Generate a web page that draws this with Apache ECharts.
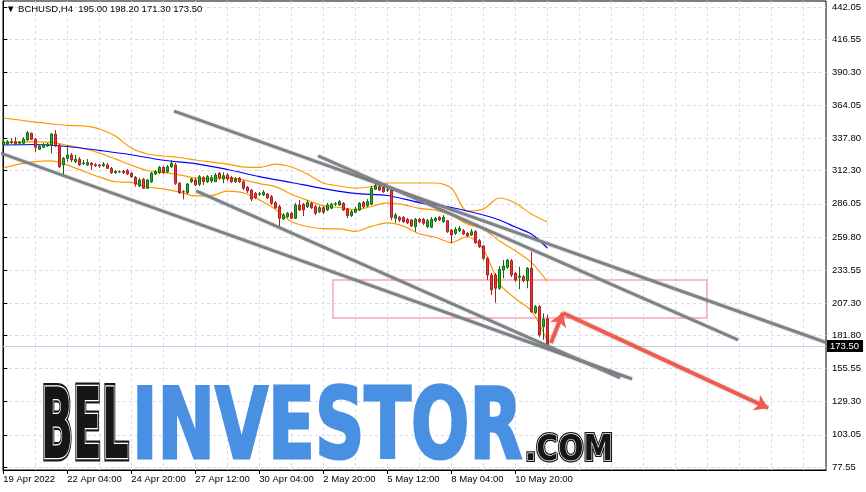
<!DOCTYPE html>
<html>
<head>
<meta charset="utf-8">
<script src="https://cdn.jsdelivr.net/npm/echarts@6.0.0/dist/echarts.min.js"></script>
<style>
  html, body { margin: 0; padding: 0; background: #fff; }
  #chart { width: 866px; height: 492px; }
</style>
</head>
<body>
<div id="chart"></div>
<script>
// H4 bars, bar 0 = 19 Apr 2022 12:00
const opens = [
  332.7, 333.5, 334.8, 335.3, 334.1, 334.1, 336.7, 342.0, 337.2, 329.3,
  330.9, 331.9, 332.7, 341.4, 332.7, 316.9, 322.2, 324.8, 319.5, 321.4,
  317.9, 316.9, 318.2, 317.1, 316.9, 316.3, 316.9, 314.2, 310.8, 311.3,
  311.9, 312.3, 310.3, 307.1, 300.2, 305.5, 298.4, 303.6, 309.7, 310.8,
  315.0, 311.5, 315.5, 316.9, 302.4, 295.7, 294.9, 303.6, 305.0, 301.6,
  306.8, 303.6, 304.2, 303.6, 310.3, 305.8, 308.9, 306.8, 303.6, 306.3,
  303.6, 299.2, 297.0, 294.4, 293.6, 293.1, 293.9, 291.7, 287.0, 283.8,
  274.1, 275.9, 278.6, 274.6, 285.2, 285.7, 283.8, 286.5, 283.8, 279.9,
  283.0, 281.2, 282.5, 285.7, 285.2, 286.5, 282.0, 276.7, 279.4, 281.2,
  287.3, 284.6, 285.7, 297.6, 299.7, 299.2, 296.8, 297.0, 274.6, 275.4,
  275.4, 273.8, 273.3, 268.0, 273.8, 273.8, 268.0, 267.5, 272.7, 275.4,
  271.9, 272.7, 265.3, 262.7, 264.8, 264.8, 262.7, 261.4, 264.0, 256.9,
  252.7, 242.9, 229.7, 229.7, 219.2, 233.6, 235.8, 241.0, 231.0, 227.9,
  228.3, 225.2, 235.0, 199.8, 204.6, 188.7, 195.0
];
const closes = [
  335.3, 335.3, 335.3, 333.5, 335.1, 337.2, 342.4, 337.2, 330.9, 331.9,
  332.7, 333.5, 341.4, 331.9, 315.5, 322.2, 324.8, 320.8, 321.4, 316.9,
  318.4, 318.7, 316.9, 316.3, 316.1, 317.4, 314.2, 310.8, 311.9, 311.5,
  310.8, 309.7, 307.6, 301.8, 305.0, 298.4, 305.0, 310.3, 311.5, 315.0,
  310.8, 315.5, 318.2, 302.4, 294.9, 295.5, 301.8, 305.8, 301.0, 307.6,
  303.6, 307.6, 306.8, 308.9, 306.8, 308.4, 305.8, 303.6, 305.8, 303.6,
  298.4, 296.3, 289.9, 290.9, 294.1, 295.2, 290.9, 286.5, 283.0, 274.6,
  277.2, 278.6, 274.6, 285.2, 281.2, 281.2, 287.3, 283.0, 278.6, 283.0,
  279.4, 285.2, 285.7, 286.2, 287.8, 281.2, 276.7, 279.9, 282.0, 286.5,
  283.8, 287.8, 298.4, 300.2, 297.0, 295.7, 297.3, 275.4, 277.2, 273.3,
  271.9, 271.1, 268.5, 273.8, 271.9, 270.7, 272.7, 273.8, 274.6, 273.3,
  275.4, 264.0, 261.4, 265.9, 266.7, 262.2, 260.6, 264.0, 255.3, 252.1,
  242.9, 229.7, 217.8, 219.2, 234.2, 236.8, 241.6, 229.7, 225.7, 228.9,
  225.2, 235.0, 200.6, 204.6, 182.1, 194.6, 173.5
];
const lows = [
  331.9, 332.7, 333.5, 332.7, 332.7, 332.7, 335.9, 336.7, 327.2, 328.7,
  330.3, 331.1, 326.1, 331.1, 314.5, 308.9, 319.5, 319.2, 318.4, 316.1,
  316.9, 316.1, 312.9, 315.3, 314.5, 315.3, 313.7, 309.7, 309.7, 310.5,
  309.7, 308.9, 306.6, 299.7, 299.4, 297.8, 297.8, 302.6, 308.9, 309.7,
  309.7, 310.5, 314.5, 301.0, 293.9, 289.7, 293.9, 302.6, 300.2, 300.2,
  301.0, 302.6, 302.6, 303.4, 305.0, 302.4, 304.2, 302.6, 302.6, 302.6,
  297.0, 294.7, 288.3, 289.9, 292.3, 292.3, 289.9, 285.2, 282.0, 266.7,
  273.3, 274.9, 274.1, 274.1, 280.4, 276.4, 282.8, 282.0, 277.2, 278.8,
  278.0, 280.4, 282.0, 284.4, 284.4, 280.4, 274.9, 275.7, 278.8, 280.4,
  282.8, 283.6, 285.2, 297.0, 296.3, 294.7, 295.5, 273.3, 271.1, 271.7,
  270.9, 270.1, 267.7, 264.0, 270.9, 269.3, 266.9, 266.9, 271.7, 272.5,
  270.9, 263.0, 254.8, 261.4, 263.8, 261.4, 259.8, 260.6, 254.3, 251.1,
  241.6, 225.7, 213.8, 207.7, 217.8, 227.1, 234.4, 228.1, 224.1, 218.4,
  224.1, 219.2, 199.6, 198.8, 180.6, 178.2, 171.3
];
const highs = [
  337.5, 336.7, 338.2, 339.0, 335.9, 339.0, 343.8, 342.6, 338.2, 332.7,
  334.3, 334.3, 342.0, 344.6, 333.5, 323.2, 332.7, 326.4, 324.8, 323.2,
  320.8, 321.6, 319.2, 318.4, 317.6, 319.2, 318.4, 315.3, 312.9, 312.5,
  312.9, 313.7, 311.3, 308.1, 306.6, 306.6, 305.8, 311.3, 312.9, 316.1,
  316.1, 316.9, 320.8, 318.4, 303.4, 297.0, 302.6, 306.6, 306.6, 308.9,
  308.1, 308.9, 308.9, 310.5, 311.3, 311.1, 310.5, 308.1, 307.3, 307.3,
  305.0, 300.2, 297.8, 295.5, 295.5, 297.0, 294.7, 293.1, 288.3, 285.2,
  278.8, 279.6, 279.6, 286.8, 289.1, 286.8, 289.1, 287.5, 285.2, 284.4,
  284.4, 286.8, 286.8, 287.5, 289.1, 287.5, 282.8, 281.2, 283.6, 287.5,
  288.3, 289.9, 300.2, 302.6, 302.4, 300.2, 299.4, 297.8, 278.8, 276.4,
  276.4, 274.9, 274.1, 274.9, 274.9, 274.9, 274.1, 275.7, 275.7, 276.4,
  277.2, 273.3, 266.1, 267.7, 268.5, 266.1, 263.8, 266.1, 265.3, 258.2,
  253.5, 244.0, 231.3, 231.3, 236.8, 241.6, 242.4, 242.4, 232.1, 236.3,
  229.7, 236.0, 248.2, 205.9, 205.9, 199.3, 198.2
];

// indicator readings at sampled bars
const maBars = [0, 8, 16, 24, 32, 40, 48, 56, 64, 72, 80, 88, 96, 104, 112, 120, 124, 128, 132, 136];
const maValues = [332.7, 333.1, 331.5, 328.4, 325.0, 320.6, 318.0, 313.3, 307.7, 303.0, 298.2, 294.3, 292.7, 287.1, 283.2, 277.2, 273.3, 267.7, 262.2, 251.1];

const bandBars = [0, 4, 8, 12, 16, 20, 24, 28, 32, 36, 40, 44, 48, 52, 56, 60, 64, 68, 72, 76, 80, 84, 88, 92, 96, 100, 104, 108, 112, 116, 120, 124, 128, 132, 136];
const upperValues = [354.1, 352.5, 350.9, 349.5, 348.2, 347.8, 345.4, 339.8, 330.3, 325.6, 324.0, 322.8, 320.8, 319.2, 317.6, 315.3, 314.9, 317.6, 315.3, 309.7, 302.6, 300.2, 298.6, 299.8, 302.6, 302.6, 302.6, 302.6, 298.6, 280.4, 282.0, 290.7, 286.7, 278.0, 271.7];
const middleValues = [334.5, 335.0, 335.2, 334.8, 332.5, 329.9, 326.4, 321.7, 316.7, 312.5, 311.0, 309.1, 306.6, 305.9, 306.9, 305.1, 302.1, 299.7, 293.7, 288.9, 284.5, 283.2, 281.4, 284.0, 286.8, 285.5, 282.5, 281.1, 277.0, 270.2, 266.0, 256.8, 248.9, 239.7, 224.7];
const lowerValues = [314.5, 317.5, 319.5, 320.1, 316.8, 312.0, 307.4, 303.6, 303.1, 299.4, 298.0, 295.4, 292.4, 292.6, 296.2, 294.9, 289.3, 281.8, 272.1, 268.1, 266.4, 266.2, 264.2, 268.2, 271.0, 268.4, 262.4, 259.6, 255.4, 260.0, 250.0, 222.9, 211.1, 201.4, 177.7];

// tick labels
const priceTicks = [442.05, 416.55, 390.30, 364.05, 337.80, 312.30, 286.05, 259.80, 233.55, 207.30, 181.80, 155.55, 129.30, 103.05, 77.55];
const timeLabelBars = [0, 16, 32, 48, 64, 80, 96, 112, 128];
const timeLabels = ['19 Apr 2022', '22 Apr 04:00', '24 Apr 20:00', '27 Apr 12:00', '30 Apr 04:00', '2 May 20:00', '5 May 12:00', '8 May 04:00', '10 May 20:00'];
const gridBars = [0, 8, 16, 24, 32, 40, 48, 56, 64, 72, 80, 88, 96, 104, 112, 120, 128, 136, 144, 152, 160, 168, 176, 184, 192, 200];

// drawn objects (bar, price)
const trendLines = [
  [[-0.8, 326.4], [157.2, 147.3]],
  [[48.2, 296.3], [154.2, 148.1]],
  [[42.7, 359.6], [205.7, 176.2]],
  [[78.7, 324.0], [183.7, 178.2]]
];
const arrowLegs = [
  [[136.9, 175.8], [139.9, 199.6]],
  [[139.9, 199.6], [191.2, 124.3]]
];
const zoneBars = [82.4, 175.9];
const zonePrices = [225.7, 195.6];
const lastPrice = 173.5;

const candles = opens.map((o, i) => [i, o, closes[i], lows[i], highs[i]]);
const pairs = (xs, ys) => xs.map((x, i) => [x, ys[i]]);

const X_MIN = -0.075, X_MAX = 205.675;
const Y_MIN = 75.17, Y_MAX = 446.81;
const labelFont = { fontFamily: 'Liberation Sans', fontSize: 9.5, color: '#000' };

const chart = echarts.init(document.getElementById('chart'), null, { renderer: 'canvas' });

function bandLine(name, data, color) {
  return {
    name, type: 'line', data, smooth: 0.3, symbol: 'none',
    lineStyle: { color, width: 1.2 }, z: 3, silent: true
  };
}

chart.setOption({
  animation: false,
  backgroundColor: '#fff',
  grid: { left: 3, right: 40, top: 1, bottom: 22, show: true, borderColor: '#000', borderWidth: 1, outerBoundsMode: 'none' },
  xAxis: [{
    type: 'value', min: X_MIN, max: X_MAX,
    axisLine: { show: true, lineStyle: { color: '#000', width: 1 } },
    axisTick: { show: true, length: 4, customValues: timeLabelBars, lineStyle: { color: '#000' } },
    axisLabel: {
      ...labelFont, customValues: timeLabelBars, align: 'left', margin: 4,
      formatter: v => timeLabels[timeLabelBars.indexOf(Math.round(v))] || ''
    },
    splitLine: { show: false }
  }, {
    type: 'value', min: X_MIN, max: X_MAX, position: 'bottom',
    axisLine: { show: false },
    axisTick: { show: false, customValues: gridBars },
    axisLabel: { show: false, customValues: gridBars },
    splitLine: { show: true, lineStyle: { color: '#d9d9ef', type: [3, 3], width: 1 } }
  }],
  yAxis: {
    type: 'value', position: 'right', min: Y_MIN, max: Y_MAX,
    axisLine: { show: true, lineStyle: { color: '#000' } },
    axisTick: { show: true, length: 4, inside: false, customValues: priceTicks, lineStyle: { color: '#000' } },
    axisLabel: { ...labelFont, customValues: priceTicks, margin: 6, formatter: v => v.toFixed(2) },
    splitLine: { show: true, lineStyle: { color: '#d9d9ef', type: [3, 3], width: 1 } }
  },
  graphic: [
    { type: 'text', left: 6, top: 4, z: 10, style: { text: '▼ BCHUSD,H4  195.00 198.20 171.30 173.50', fill: '#000', font: '9.5px "Liberation Sans"' } },
    // watermark
    { type: 'text', x: 41, y: 433, scaleX: 0.43, z: 1, silent: true,
      style: { text: 'BEL', font: 'bold 98px "DejaVu Sans"', fill: '#161616', stroke: '#161616', lineWidth: 7, verticalAlign: 'middle' } },
    { type: 'text', x: 41, y: 433, scaleX: 0.43, z: 1, silent: true,
      style: { text: 'BEL', font: 'bold 98px "DejaVu Sans"', fill: '#161616', stroke: '#fff', lineWidth: 2.6, verticalAlign: 'middle' } },
    { type: 'text', x: 132, y: 433, scaleX: 0.70, z: 1, silent: true,
      style: { text: 'INVESTOR', font: 'bold 98px "DejaVu Sans"', fill: '#4a90e2', stroke: '#4a90e2', lineWidth: 3, verticalAlign: 'middle',
        shadowBlur: 3, shadowColor: 'rgba(0,0,0,0.35)', shadowOffsetY: 1 } },
    { type: 'text', x: 525, y: 451, scaleX: 0.85, z: 1, silent: true,
      style: { text: '.COM', font: 'bold 35px "DejaVu Sans"', fill: '#161616', stroke: '#161616', lineWidth: 4, verticalAlign: 'middle' } },
    { type: 'text', x: 525, y: 451, scaleX: 0.85, z: 1, silent: true,
      style: { text: '.COM', font: 'bold 35px "DejaVu Sans"', fill: '#161616', stroke: '#fff', lineWidth: 1.4, verticalAlign: 'middle' } }
  ],
  series: [
    bandLine('upper', pairs(bandBars, upperValues), '#ff9800'),
    bandLine('middle', pairs(bandBars, middleValues), '#ff9800'),
    bandLine('lower', pairs(bandBars, lowerValues), '#ff9800'),
    bandLine('ma', pairs(maBars, maValues), '#0000ff'),
    {
      name: 'BCHUSD', type: 'candlestick', data: candles,
      encode: { x: 0, y: [1, 2, 3, 4] },
      barWidth: 3, z: 4,
      itemStyle: { color: '#2fae2f', color0: '#e03b3b', borderColor: '#0d6e0d', borderColor0: '#b01e1e', borderWidth: 1 },
      markLine: {
        silent: true, symbol: 'none',
        lineStyle: { color: '#c9c9ec', type: 'solid', width: 1 },
        label: { position: 'end', distance: 1, formatter: lastPrice.toFixed(2), backgroundColor: '#000', color: '#fff',
          fontFamily: 'Liberation Sans', fontSize: 9.5, padding: [1, 4, 1, 3] },
        data: [{ yAxis: lastPrice }]
      },
      markArea: {
        silent: true,
        itemStyle: { color: 'rgba(255,255,255,0)', borderColor: '#f4a6ba', borderWidth: 1.5 },
        data: [[{ xAxis: zoneBars[0], yAxis: zonePrices[0] }, { xAxis: zoneBars[1], yAxis: zonePrices[1] }]]
      }
    },
    {
      name: 'trend', type: 'lines', coordinateSystem: 'cartesian2d', z: 5, silent: true,
      lineStyle: { color: '#7e8387', width: 3, opacity: 1, shadowBlur: 2, shadowColor: 'rgba(0,0,0,0.25)' },
      data: trendLines.map(c => ({ coords: c }))
    },
    {
      name: 'arrow', type: 'lines', coordinateSystem: 'cartesian2d', z: 6, silent: true,
      symbol: ['none', 'arrow'], symbolSize: 13,
      lineStyle: { color: '#f25a4e', width: 4, opacity: 1, shadowBlur: 3, shadowColor: 'rgba(0,0,0,0.25)' },
      data: arrowLegs.map(c => ({ coords: c }))
    }
  ]
});
</script>
</body>
</html>
